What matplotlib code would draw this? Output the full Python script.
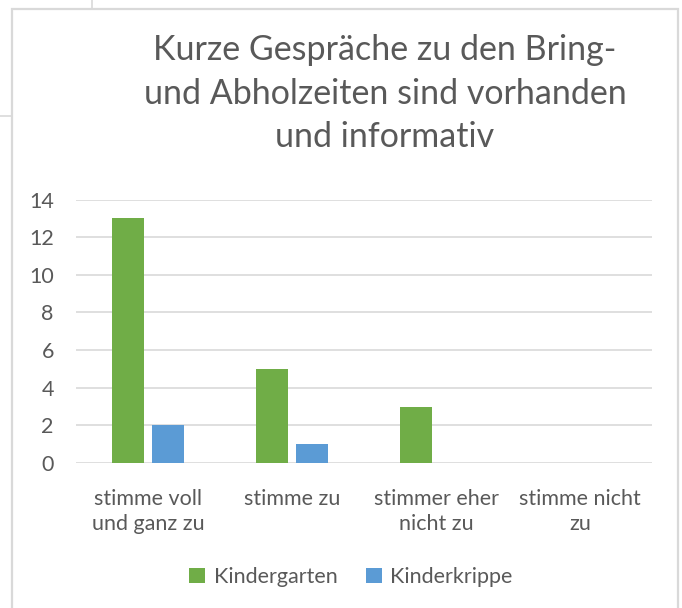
import numpy as np
import matplotlib
matplotlib.use("Agg")
import matplotlib.pyplot as plt
from matplotlib.patches import Rectangle
from matplotlib.lines import Line2D

# Daten
kategorien = ["stimme voll\nund ganz zu", "stimme zu", "stimmer eher\nnicht zu", "stimme nicht\nzu"]
kindergarten = [13, 5, 3, 0]
kinderkrippe = [2, 1, 0, 0]
y_ticks = [0, 2, 4, 6, 8, 10, 12, 14]
titel = "Kurze Gespräche zu den Bring-\nund Abholzeiten sind vorhanden\nund informativ"

GRUEN = "#70AD47"
BLAU = "#5B9BD5"
TEXT = "#595959"
GRID = "#D9D9D9"

plt.rcParams["font.family"] = ["Lato", "DejaVu Sans"]

W, H = 682, 608
fig = plt.figure(figsize=(W / 100, H / 100), dpi=100)

def px(x0, y0, x1, y1):
    # Pixelkoordinaten (oben links) -> Figure-Anteile
    return [x0 / W, 1 - y1 / H, (x1 - x0) / W, (y1 - y0) / H]

# Rahmen des Diagramms und Reste der Tabelle drumherum
fig.add_artist(Rectangle((12 / W, -0.05), (678 - 12) / W, 1.05 - 9 / H,
                         transform=fig.transFigure, fill=False, edgecolor=GRID, lw=1.6))
fig.add_artist(Line2D([92 / W, 92 / W], [1, 1 - 9 / H], transform=fig.transFigure, color=GRID, lw=1.2))
fig.add_artist(Line2D([0, 12 / W], [1 - 116 / H, 1 - 116 / H], transform=fig.transFigure, color=GRID, lw=1.2))
fig.text(22 / W, 1 + 11 / H, "nicht", color=TEXT, fontsize=12, va="bottom", ha="left")

ax = fig.add_axes(px(76, 199.5, 652, 463))
x = np.arange(len(kategorien))
breite = 0.222
ax.bar(x - 0.142, kindergarten, breite, color=GRUEN, label="Kindergarten", zorder=3)
ax.bar(x + 0.142, kinderkrippe, breite, color=BLAU, label="Kinderkrippe", zorder=3)

ax.set_xlim(-0.5, len(kategorien) - 0.5)
ax.set_ylim(0, 14)
ax.set_yticks(y_ticks)
ax.yaxis.grid(True, color=GRID, lw=1.2, zorder=0)
for s in ax.spines.values():
    s.set_visible(False)
ax.tick_params(axis="both", length=0, labelsize=15.5, colors=TEXT)
ax.tick_params(axis="y", pad=16)
ax.set_xticks(x)
ax.set_xticklabels(kategorien, linespacing=1.3)
ax.tick_params(axis="x", pad=19)

fig.text(385 / W, 1 - 34 / H, titel, ha="center", va="top", fontsize=24.5,
         color=TEXT, linespacing=1.45)

fig.legend(loc="center", bbox_to_anchor=(351 / W, 1 - 577 / H), ncol=2, frameon=False,
           fontsize=15.5, labelcolor=TEXT, handlelength=0.75, handleheight=0.75,
           handletextpad=0.4, columnspacing=1.3)

fig.savefig("out.png", dpi=100, facecolor="white")
